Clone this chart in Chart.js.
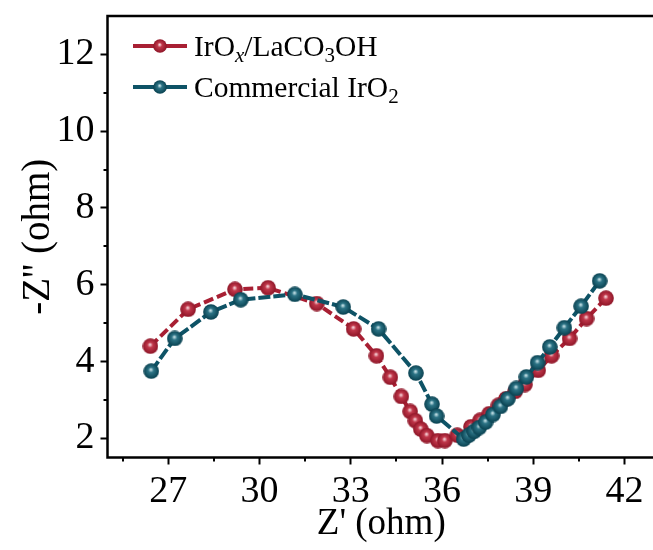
<!DOCTYPE html>
<html>
<head>
<meta charset="utf-8">
<script src="https://cdn.jsdelivr.net/npm/chart.js@4.4.1/dist/chart.umd.min.js"></script>
<style>
  html, body { margin: 0; padding: 0; background: #fff; overflow: hidden; }
  #wrap { width: 667px; height: 550px; }
</style>
</head>
<body>
<div id="wrap"><canvas id="c" width="667" height="550"></canvas></div>
<script>
// Nyquist plots: Z' (ohm) against -Z'' (ohm)
const zRealLa = [26.41, 27.65, 29.19, 30.28, 31.88, 33.09, 33.84, 34.30, 34.66, 34.95,
                 35.12, 35.30, 35.50, 35.86, 36.09, 36.50, 36.95, 37.25, 37.55, 37.85,
                 38.10, 38.40, 38.72, 39.16, 39.60, 40.19, 40.75, 41.39];
const zImagLa = [4.40, 5.36, 5.88, 5.92, 5.51, 4.85, 4.15, 3.59, 3.09, 2.70,
                 2.46, 2.24, 2.07, 1.94, 1.94, 2.08, 2.30, 2.47, 2.64, 2.86,
                 3.03, 3.22, 3.40, 3.77, 4.15, 4.60, 5.12, 5.65];

const zRealIr = [26.44, 27.21, 28.40, 29.38, 31.16, 32.75, 33.91, 35.14, 35.67, 35.82,
                 36.71, 36.88, 37.05, 37.22, 37.43, 37.67, 37.92, 38.16, 38.44, 38.77,
                 39.14, 39.54, 40.02, 40.57, 41.18];
const zImagIr = [3.75, 4.60, 5.29, 5.61, 5.75, 5.42, 4.85, 3.70, 2.89, 2.58,
                 1.98, 2.08, 2.18, 2.28, 2.42, 2.62, 2.83, 3.03, 3.30, 3.60,
                 3.97, 4.38, 4.88, 5.44, 6.10];

const xMajorTicks = [27, 30, 33, 36, 39, 42];
const xMinorTicks = [25.5, 28.5, 31.5, 34.5, 37.5, 40.5];
const yMajorTicks = [2, 4, 6, 8, 10, 12];
const yMinorTicks = [3, 5, 7, 9, 11];

// Legend names as runs of text: [text, style]
const nameLa = [['IrO', ''], ['x', 'subItalic'], ['/LaCO', ''], ['3', 'sub'], ['OH', '']];
const nameIr = [['Commercial IrO', ''], ['2', 'sub']];

const RED = '#a81f33';
const TEAL = '#0e5366';
const SERIF = '"Liberation Serif", "Times New Roman", serif';

// Shaded sphere used as the point symbol
function sphere(d, light, mid, dark) {
  const c = document.createElement('canvas');
  c.width = c.height = d;
  const g = c.getContext('2d');
  const r = d / 2;
  const grad = g.createRadialGradient(r * 0.95, r * 0.8, 0.4, r, r, r);
  grad.addColorStop(0, light);
  grad.addColorStop(0.3, mid);
  grad.addColorStop(1, dark);
  g.fillStyle = grad;
  g.beginPath();
  g.arc(r, r, r - 0.2, 0, Math.PI * 2);
  g.fill();
  return c;
}
const ballRed = sphere(16, '#f6d3d8', '#c0374a', '#8c1426');
const ballTeal = sphere(16, '#c4e0e6', '#2c7385', '#073f4e');
const ballRedSmall = sphere(14, '#f6d3d8', '#c0374a', '#8c1426');
const ballTealSmall = sphere(14, '#c4e0e6', '#2c7385', '#073f4e');

function pts(xs, ys) { return xs.map((x, i) => ({ x: x, y: ys[i] })); }

// Frame around the plot area plus the short minor ticks
const framePlugin = {
  id: 'frame',
  afterDraw(chart) {
    const { ctx, chartArea: a, scales: { x, y } } = chart;
    ctx.save();
    ctx.strokeStyle = '#000';
    ctx.lineWidth = 2;
    xMinorTicks.forEach(v => {
      const px = Math.round(x.getPixelForValue(v));
      ctx.beginPath(); ctx.moveTo(px, a.bottom); ctx.lineTo(px, a.bottom + 4); ctx.stroke();
    });
    yMinorTicks.forEach(v => {
      const py = Math.round(y.getPixelForValue(v));
      ctx.beginPath(); ctx.moveTo(a.left, py); ctx.lineTo(a.left - 4, py); ctx.stroke();
    });
    ctx.lineWidth = 2.5;
    ctx.strokeRect(a.left, a.top, a.right - a.left, a.bottom - a.top);
    ctx.restore();
  }
};

// Legend with subscripted chemical formulas
const legendPlugin = {
  id: 'formulaLegend',
  afterDraw(chart) {
    const ctx = chart.ctx;
    const rows = [
      { name: nameLa, color: RED, ball: ballRedSmall, y: 46 },
      { name: nameIr, color: TEAL, ball: ballTealSmall, y: 87 }
    ];
    const size = 29.5;
    ctx.save();
    rows.forEach(r => {
      ctx.strokeStyle = r.color;
      ctx.lineWidth = 4;
      ctx.beginPath(); ctx.moveTo(133, r.y); ctx.lineTo(187, r.y); ctx.stroke();
      ctx.drawImage(r.ball, 160 - r.ball.width / 2, r.y - r.ball.height / 2);
      let tx = 194;
      ctx.fillStyle = '#000';
      ctx.textBaseline = 'alphabetic';
      r.name.forEach(([t, st]) => {
        let f = size + 'px ' + SERIF, dy = 0;
        if (st === 'sub') { f = Math.round(size * 0.72) + 'px ' + SERIF; dy = 6; }
        if (st === 'subItalic') { f = 'italic ' + Math.round(size * 0.72) + 'px ' + SERIF; dy = 6; }
        ctx.font = f;
        ctx.fillText(t, tx, r.y + 9.5 + dy);
        tx += ctx.measureText(t).width;
      });
    });
    ctx.restore();
  }
};

const tickFont = { family: SERIF, size: 38 };

new Chart(document.getElementById('c'), {
  type: 'scatter',
  data: {
    datasets: [
      {
        label: 'IrOx/LaCO3OH',
        data: pts(zRealLa, zImagLa),
        showLine: true,
        borderColor: RED,
        borderWidth: 4,
        borderDash: [10, 4],
        pointStyle: ballRed,
        pointRadius: 8,
        order: 1
      },
      {
        label: 'Commercial IrO2',
        data: pts(zRealIr, zImagIr),
        showLine: true,
        borderColor: TEAL,
        borderWidth: 4,
        borderDash: [12, 3],
        pointStyle: ballTeal,
        pointRadius: 8,
        order: 0
      }
    ]
  },
  options: {
    responsive: false,
    devicePixelRatio: 1,
    animation: false,
    layout: { padding: { top: 16, right: 0, left: 0, bottom: 0 } },
    plugins: { legend: { display: false }, tooltip: { enabled: false } },
    scales: {
      x: {
        type: 'linear', min: 25, max: 43,
        afterBuildTicks: s => { s.ticks = xMajorTicks.map(v => ({ value: v })); },
        afterFit: s => { s.height = 92.5; s.paddingLeft = 0; s.paddingRight = 0; },
        border: { display: false },
        grid: { drawOnChartArea: false, drawTicks: true, tickLength: 7, tickWidth: 2, tickColor: '#000' },
        ticks: { color: '#000', font: tickFont, padding: 5, maxRotation: 0, autoSkip: false },
        title: { display: true, text: "Z' (ohm)", color: '#000', font: { family: SERIF, size: 37 }, padding: { top: 0, bottom: 4 } }
      },
      y: {
        type: 'linear', min: 1.5, max: 13,
        afterBuildTicks: s => { s.ticks = yMajorTicks.map(v => ({ value: v })); },
        afterFit: s => { s.width = 107.5; s.paddingTop = 0; s.paddingBottom = 0; },
        border: { display: false },
        grid: { drawOnChartArea: false, drawTicks: true, tickLength: 7, tickWidth: 2, tickColor: '#000' },
        ticks: { color: '#000', font: tickFont, padding: 6, autoSkip: false },
        title: { display: true, text: "-Z'' (ohm)", color: '#000', font: { family: SERIF, size: 39 }, padding: { top: 15, bottom: 0 } }
      }
    }
  },
  plugins: [framePlugin, legendPlugin]
});
</script>
</body>
</html>
